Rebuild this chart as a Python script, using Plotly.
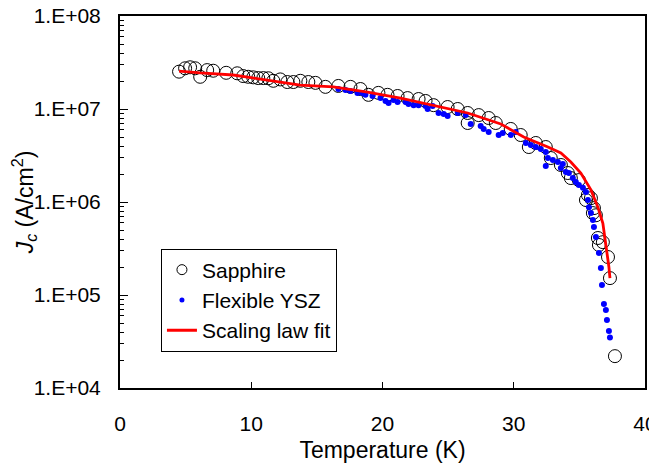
import plotly.graph_objects as go

# Sapphire (open circles)
sap_T = [4.50, 4.96, 5.34, 5.73, 6.11, 6.64, 7.10, 8.09, 8.93, 9.39, 9.77, 10.15, 10.53, 10.92,
         11.30, 11.68, 12.21, 12.75, 13.21, 13.74, 14.35, 14.89, 15.65, 16.64, 17.56, 18.32,
         18.93, 19.69, 20.38, 21.15, 21.91, 22.75, 23.28, 23.89, 24.96, 25.73, 26.49, 26.49,
         27.33, 28.09, 28.63, 29.77, 30.53, 31.15, 31.68, 32.44, 32.82, 33.59, 34.12, 34.35,
         34.96, 35.50, 35.65, 35.88, 36.03, 36.11, 36.26, 36.41, 36.49, 36.79, 37.18, 37.33, 37.71]
sap_J = [2.52e7, 2.74e7, 2.81e7, 2.74e7, 2.22e7, 2.62e7, 2.58e7, 2.45e7, 2.42e7, 2.26e7, 2.22e7,
         2.19e7, 2.15e7, 2.15e7, 2.14e7, 2.01e7, 2.08e7, 1.95e7, 1.95e7, 2.01e7, 1.95e7, 1.91e7,
         1.73e7, 1.77e7, 1.73e7, 1.64e7, 1.42e7, 1.49e7, 1.42e7, 1.38e7, 1.31e7, 1.28e7, 1.22e7,
         1.10e7, 1.05e7, 1.00e7, 9.06e6, 7.07e6, 8.6e6, 8.0e6, 7.07e6, 6.1e6, 5.25e6, 3.9e6,
         4.31e6, 3.9e6, 2.97e6, 2.50e6, 2.05e6, 1.81e6, 1.72e6, 1.05e6, 1.19e6, 1.10e6, 7.6e5,
         8.6e5, 7.2e5, 4.1e5, 3.45e5, 3.7e5, 2.56e5, 1.52e5, 2.2e4]

# Flexible YSZ (blue dots)
ysz_T = [16.64, 17.18, 17.56, 18.09, 18.47, 18.70, 19.24, 19.85, 20.23, 20.46, 20.84, 21.15,
         21.76, 21.98, 22.37, 22.75, 23.28, 23.44, 23.82, 24.27, 24.66, 24.96, 25.73, 26.34,
         26.72, 27.48, 27.71, 28.09, 28.85, 29.16, 29.77, 30.15, 30.92, 31.30, 31.68, 32.06,
         32.44, 32.60, 32.44, 32.98, 33.36, 33.74, 33.59, 33.97, 34.20, 34.50, 34.73, 34.96,
         35.27, 35.50, 35.65, 35.73, 35.88, 36.03, 36.11, 36.26, 36.49, 36.64, 36.72, 36.87,
         37.02, 37.10, 37.25, 37.33]
ysz_J = [1.64e7, 1.60e7, 1.56e7, 1.49e7, 1.49e7, 1.42e7, 1.38e7, 1.31e7, 1.22e7, 1.16e7, 1.25e7,
         1.19e7, 1.19e7, 1.13e7, 1.10e7, 1.10e7, 1.08e7, 1.00e7, 1.08e7, 9.06e6, 8.84e6, 8.41e6,
         9.06e6, 8.6e6, 6.9e6, 6.57e6, 6.1e6, 5.66e6, 5.25e6, 5.52e6, 5.25e6, 5.66e6, 4.31e6,
         4.10e6, 3.9e6, 3.72e6, 3.45e6, 2.97e6, 2.44e6, 2.83e6, 2.69e6, 2.56e6, 2.32e6, 2.10e6,
         2.05e6, 1.81e6, 1.64e6, 1.52e6, 1.42e6, 1.28e6, 1.05e6, 8.8e5, 7.6e5, 6.4e5, 5.4e5,
         4.2e5, 2.83e5, 1.95e5, 1.28e5, 8.0e4, 6.9e4, 5.4e4, 4.1e4, 3.5e4]

# Scaling law fit (red line)
fit_T = [4.50, 6.11, 8.63, 11.22, 13.74, 16.26, 18.85, 21.37, 23.89, 26.49, 29.01, 30.76,
         32.60, 33.59, 34.35, 35.11, 35.88, 36.41, 36.79, 37.02, 37.25, 37.33]
fit_J = [2.56e7, 2.44e7, 2.32e7, 2.05e7, 1.81e7, 1.73e7, 1.52e7, 1.31e7, 1.10e7, 9.06e6, 6.9e6,
         5.0e6, 3.9e6, 3.37e6, 2.69e6, 2.05e6, 1.35e6, 8.8e5, 5.9e5, 3.6e5, 2.0e5, 1.52e5]

x_ticks = [0, 10, 20, 30, 40]
y_ticks = [1e4, 1e5, 1e6, 1e7, 1e8]
y_ticktext = ["1.E+04", "1.E+05", "1.E+06", "1.E+07", "1.E+08"]
y_minor = [m * 10 ** e for e in range(4, 8) for m in range(2, 10)]

FONT = "Liberation Sans, Arial, sans-serif"

fig = go.Figure()
fig.add_trace(go.Scatter(
    x=sap_T, y=sap_J, mode="markers", name="Sapphire", showlegend=False,
    marker=dict(symbol="circle-open", size=13, color="black", line=dict(width=1, color="black")),
))
fig.add_trace(go.Scatter(
    x=ysz_T, y=ysz_J, mode="markers", name="Flexible YSZ", showlegend=False,
    marker=dict(symbol="circle", size=6, color="#0000FF"),
))
fig.add_trace(go.Scatter(
    x=fit_T, y=fit_J, mode="lines", name="Scaling law fit", showlegend=False,
    line=dict(color="#FF0000", width=2.8),
))
# legend entries (smaller symbols as in the reference legend)
fig.add_trace(go.Scatter(
    x=[None], y=[None], mode="markers", name="Sapphire", legendgroup="a",
    marker=dict(symbol="circle-open", size=10, color="black", line=dict(width=1, color="black")),
))
fig.add_trace(go.Scatter(
    x=[None], y=[None], mode="markers", name="Flexible YSZ", legendgroup="b",
    marker=dict(symbol="circle", size=5, color="#0000FF"),
))
fig.add_trace(go.Scatter(
    x=[None], y=[None], mode="lines", name="Scaling law fit", legendgroup="c",
    line=dict(color="#FF0000", width=2.8),
))

fig.update_layout(
    width=649, height=456,
    margin=dict(l=112, r=12, t=8, b=76, autoexpand=False),
    paper_bgcolor="white", plot_bgcolor="white",
    font=dict(family=FONT, size=21, color="black"),
    showlegend=True,
    legend=dict(
        x=0.078, y=0.375, xanchor="left", yanchor="top",
        bgcolor="white", bordercolor="black", borderwidth=1,
        font=dict(family=FONT, size=21, color="black"),
        tracegroupgap=0, traceorder="grouped", itemwidth=30,
    ),
)
fig.update_xaxes(
    range=[0, 40], tickvals=x_ticks, ticks="inside", ticklen=6, tickwidth=1, tickcolor="black",
    showline=True, linecolor="black", linewidth=2, mirror=True, showgrid=False, zeroline=False,
    automargin=False, ticklabelstandoff=16, ticklabeloverflow="allow",
    title=dict(text="Temperature (K)", font=dict(family=FONT, size=23), standoff=8),
    tickfont=dict(family=FONT, size=21),
)
fig.update_yaxes(
    type="log", range=[4, 8], tickvals=y_ticks, ticktext=y_ticktext,
    ticks="inside", ticklen=8, tickwidth=1, tickcolor="black",
    minor=dict(tickvals=y_minor, ticks="inside", ticklen=4, tickcolor="black", tickwidth=1),
    showline=True, linecolor="black", linewidth=2, mirror=True, showgrid=False, zeroline=False,
    automargin=False, ticklabelstandoff=13, ticklabeloverflow="allow",
    title=dict(text="<i>J<sub>c</sub></i> (A/cm<sup>2</sup>)", font=dict(family=FONT, size=23), standoff=8),
    tickfont=dict(family=FONT, size=21),
)

fig.write_html("out.html")
